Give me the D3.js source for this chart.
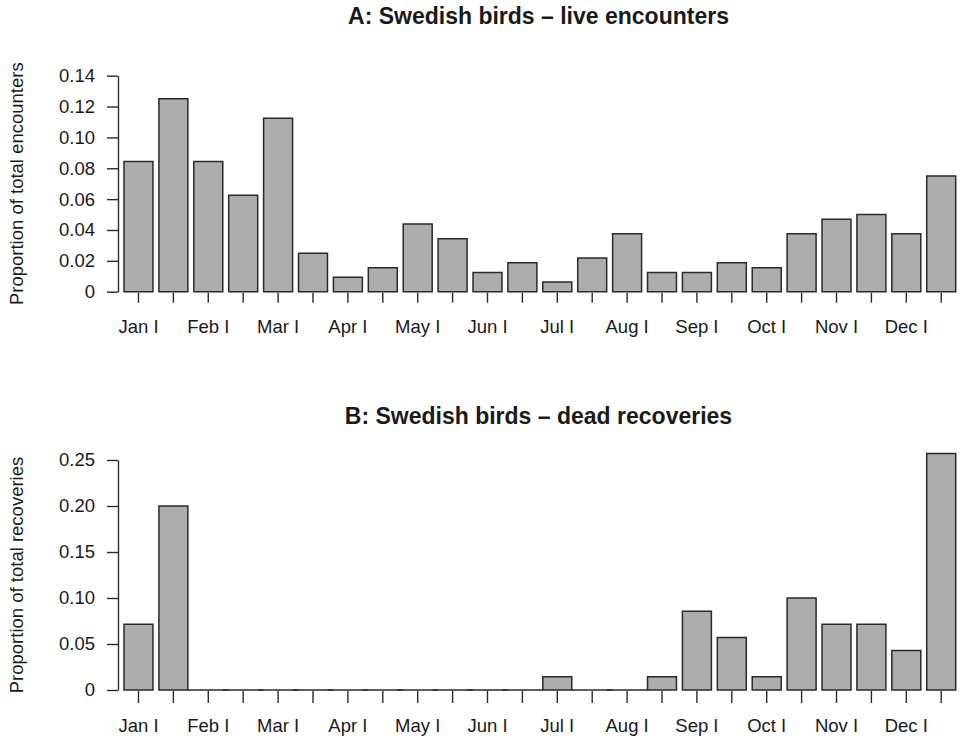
<!DOCTYPE html>
<html>
<head>
<meta charset="utf-8">
<script src="https://cdn.jsdelivr.net/npm/d3@7"></script>
<style>
  html, body { margin: 0; padding: 0; background: #fff; }
  svg { display: block; }
  text { font-family: "Liberation Sans", Arial, sans-serif; fill: #1a1a1a; }
</style>
</head>
<body>
<svg id="chart" width="960" height="739"></svg>
<script>
// Half-month periods (first and second half of each month)
const periodLabels = [
  "Jan I", "", "Feb I", "", "Mar I", "", "Apr I", "", "May I", "", "Jun I", "",
  "Jul I", "", "Aug I", "", "Sep I", "", "Oct I", "", "Nov I", "", "Dec I", ""
];

// Panel A: proportion of live encounters per half-month
const liveProportion = [
  0.0844, 0.1250, 0.0844, 0.0625, 0.1125, 0.0250, 0.0094, 0.0156,
  0.0438, 0.0344, 0.0125, 0.0188, 0.0063, 0.0219, 0.0375, 0.0125,
  0.0125, 0.0188, 0.0156, 0.0375, 0.0469, 0.0500, 0.0375, 0.0750
];

// Panel B: proportion of dead recoveries per half-month
const deadProportion = [
  0.0714, 0.2000, 0, 0, 0, 0, 0, 0,
  0, 0, 0, 0, 0.0143, 0, 0, 0.0143,
  0.0857, 0.0571, 0.0143, 0.1000, 0.0714, 0.0714, 0.0429, 0.2571
];

const liveTicks = [0, 0.02, 0.04, 0.06, 0.08, 0.10, 0.12, 0.14];
const liveTickLabels = ["0", "0.02", "0.04", "0.06", "0.08", "0.10", "0.12", "0.14"];
const deadTicks = [0, 0.05, 0.10, 0.15, 0.20, 0.25];
const deadTickLabels = ["0", "0.05", "0.10", "0.15", "0.20", "0.25"];

const svg = d3.select("#chart");
const axisColor = "#2a2a2a";
const labelSize = "18.5px";

const x = d3.scaleBand()
  .domain(d3.range(periodLabels.length))
  .range([124, 955.7])
  .paddingInner(0.17)
  .paddingOuter(0);

function drawPanel(opts) {
  const g = svg.append("g");
  const y = d3.scaleLinear().domain([0, opts.yMax]).range([opts.y0, opts.yTop]);
  const gap = x.step() - x.bandwidth();

  // title
  g.append("text")
    .attr("x", 538.5)
    .attr("y", opts.titleY)
    .attr("text-anchor", "middle")
    .style("font-size", "23px")
    .style("font-weight", "bold")
    .text(opts.title);

  // y axis
  const yAxis = d3.axisLeft(y)
    .tickValues(opts.ticks)
    .tickFormat((d, i) => opts.tickLabels[i])
    .tickSize(11)
    .tickSizeOuter(0)
    .tickPadding(12);
  const ya = g.append("g").attr("transform", "translate(118,0)").call(yAxis);
  ya.select(".domain").attr("stroke", axisColor).attr("stroke-width", 1.4);
  ya.selectAll(".tick line").attr("stroke", axisColor).attr("stroke-width", 1.4);
  ya.selectAll(".tick text")
    .style("font-size", labelSize)
    .style("font-family", "'Liberation Sans', Arial, sans-serif")
    .attr("fill", "#1a1a1a");

  // y axis title
  g.append("text")
    .attr("transform", `translate(23,${(opts.y0 + opts.yTop) / 2}) rotate(-90)`)
    .attr("text-anchor", "middle")
    .style("font-size", labelSize)
    .text(opts.yTitle);

  // bars; empty periods collapse to a flat outline along the baseline
  g.append("g").selectAll("path")
    .data(opts.values)
    .join("path")
    .attr("d", (d, i) => {
      const x0 = x(i), x1 = x(i) + x.bandwidth();
      if (d === 0) return `M${x0 - gap},${y(0)}H${x1 + gap}`;
      return `M${x0},${y(0)}V${y(d)}H${x1}V${y(0)}Z`;
    })
    .attr("fill", d => d === 0 ? "none" : "#adadad")
    .attr("stroke", axisColor)
    .attr("stroke-width", 1.5);

  // x axis: ticks at every bar, labels on first half of each month
  const xAxis = d3.axisBottom(x)
    .tickFormat(i => periodLabels[i])
    .tickSize(opts.xTickSize)
    .tickSizeOuter(0)
    .tickPadding(opts.xLabelPad);
  const xa = g.append("g").attr("transform", `translate(0,${opts.y0 + 1})`).call(xAxis);
  xa.select(".domain").remove();
  xa.selectAll(".tick line").attr("stroke", axisColor).attr("stroke-width", 1.4);
  xa.selectAll(".tick text")
    .style("font-size", labelSize)
    .style("font-family", "'Liberation Sans', Arial, sans-serif")
    .attr("fill", "#1a1a1a");
}

drawPanel({
  title: "A: Swedish birds \u2013 live encounters",
  titleY: 24,
  yTitle: "Proportion of total encounters",
  values: liveProportion,
  yMax: 0.14,
  y0: 291.7,
  yTop: 75.7,
  ticks: liveTicks,
  tickLabels: liveTickLabels,
  xTickSize: 10,
  xLabelPad: 17
});

drawPanel({
  title: "B: Swedish birds \u2013 dead recoveries",
  titleY: 424,
  yTitle: "Proportion of total recoveries",
  values: deadProportion,
  yMax: 0.25,
  y0: 690,
  yTop: 460,
  ticks: deadTicks,
  tickLabels: deadTickLabels,
  xTickSize: 12,
  xLabelPad: 16
});
</script>
</body>
</html>
